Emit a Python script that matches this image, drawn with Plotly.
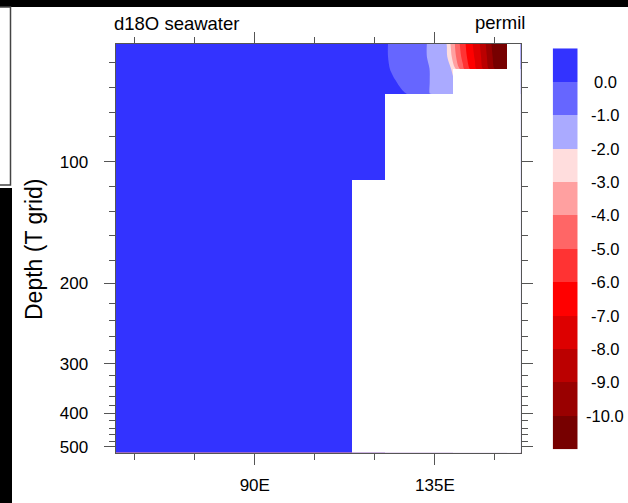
import numpy as np
import plotly.graph_objects as go

# ---------------------------------------------------------------- data
# depth (m) of each T-grid level; the vertical axis is the level index
level_depth = [5, 15, 25, 35, 45, 55, 65, 75, 85, 95, 105, 115, 125, 135, 145,
               155, 165, 175, 185, 196, 208, 221, 235, 250, 266, 284, 303, 324,
               348, 375, 405, 439, 477, 519]
lon = list(range(55, 158))                      # degrees E

# d18O of seawater (permil) over the open ocean west of the shelf
open_ocean_d18o = 0.4

# near-surface d18O (permil) east of 121E, levels 0..4
east_lon = list(range(121, 154))
east_k0 = [0.5, 0.3, 0.08, -0.2, -0.35, -0.45, -0.55, -0.65, -0.72, -0.8, -0.87,
           -0.93, -1.0, -1.15, -1.3, -1.5, -1.75, -2.02, -3.1, -4.0, -4.85, -5.55,
           -6.2, -6.75, -7.3, -7.85, -8.5, -9.2, -9.9, -10.6, -11.1, -11.5, -11.8]
east_k1 = [0.5, 0.3, 0.08, -0.2, -0.35, -0.45, -0.55, -0.65, -0.72, -0.8, -0.87,
           -0.93, -1.0, -1.12, -1.27, -1.45, -1.68, -1.92, -2.8, -3.75, -4.6, -5.3,
           -6.0, -6.55, -7.1, -7.65, -8.3, -9.0, -9.7, -10.4, -10.9, -11.3, -11.6]
east_k2 = [0.55, 0.35, 0.15, -0.05, -0.3, -0.42, -0.52, -0.62, -0.7, -0.78, -0.85,
           -0.9, -0.96, -1.02, -1.15, -1.3, -1.5, -1.75, -1.95, -2.9, -3.9, -4.8,
           -5.5, -6.2, -6.8, -7.4, -8.0, -8.7, -9.4, -10.1, -10.7, -11.2, -11.5]
east_k3 = [0.6, 0.45, 0.3, 0.18, 0.05, -0.1, -0.3, -0.45, -0.58, -0.7, -0.8,
           -0.88, -0.95, -1.02, -1.15, -1.3, -1.45, -1.6, -1.72, -1.85]
east_k4 = [0.65, 0.55, 0.45, 0.35, 0.27, 0.18, 0.09, -0.02, -0.2, -0.4, -0.6,
           -0.78, -0.92, -1.03, -1.15, -1.3, -1.45, -1.6, -1.7, -1.8]

# land mask: western edge of each step (deg E) and the level of the sea floor
land_west_edge = [114.2, 122.4, 139.4, 152.9]
floor_level = [11, 4, 2, 0]

# contour levels and fill colours (highest band first)
contour_levels = [0, -1, -2, -3, -4, -5, -6, -7, -8, -9, -10]
band_colors = ["#3333FF", "#6666FF", "#AAAAFF", "#FFDDDD", "#FFA0A0", "#FF6666",
               "#FF3333", "#FF0000", "#DD0000", "#BB0000", "#990000", "#770000"]

major_depth = [100, 200, 300, 400, 500]
minor_depth = [20, 40, 60, 80, 120, 140, 160, 180, 220, 240, 260, 280, 320, 340,
               360, 380, 420, 440, 460, 480]
lon_major = [90, 135]
lon_major_text = ["90E", "135E"]
lon_minor = [60, 75, 105, 120, 150]

# ---------------------------------------------------------------- grid
W, H = 628, 503
nlev = len(level_depth)
levels = np.arange(nlev)

z = np.full((nlev, len(lon)), open_ocean_d18o, dtype=float)
for k, row in enumerate([east_k0, east_k1, east_k2, east_k3, east_k4]):
    for lo, v in zip(east_lon, row):
        z[k, lon.index(lo)] = v

step = contour_levels[0] - contour_levels[1]
lo_lev, hi_lev = min(contour_levels), max(contour_levels)
asc_colors = band_colors[::-1]
nb = len(asc_colors)
colorscale = [[i / (nb - 1), c] for i, c in enumerate(asc_colors)]
band_mid = [lo_lev - step / 2 + i * step for i in range(nb)]

fig = go.Figure()

fig.add_trace(go.Contour(
    x=lon, y=levels, z=z,
    autocontour=False,
    contours=dict(start=lo_lev, end=hi_lev, size=step, coloring="fill",
                  showlines=False),
    line=dict(width=0),
    colorscale=colorscale, showscale=False, hoverinfo="skip",
))

# land below the sea floor (bars run past the plot edges and are clipped)
x_east = 160.0
bottom = nlev - 1
bar_end = bottom + 2
fig.add_trace(go.Bar(
    x=[(w + x_east) / 2 for w in land_west_edge],
    width=[x_east - w for w in land_west_edge],
    base=floor_level,
    y=[bar_end - f for f in floor_level],
    marker=dict(color="white", line=dict(width=0)),
    hoverinfo="skip", showlegend=False,
))

# label bar built as a one-column heatmap
fig.add_trace(go.Heatmap(
    x=[0], y=band_mid, z=[[m] for m in band_mid],
    zmin=band_mid[0], zmax=band_mid[-1], colorscale=colorscale,
    showscale=False, xaxis="x2", yaxis="y2", hoverinfo="skip",
))

# ---------------------------------------------------------------- layout
def px_x(p):
    return p / W


def px_y(p):
    return 1 - p / H


axis_col = "#555555"
font_fam = "Liberation Sans, Arial, Helvetica, sans-serif"
plot_l, plot_r, plot_t, plot_b = 115.5, 520.5, 44.0, 452.5

y_major = np.interp(major_depth, level_depth, levels)
y_minor = np.interp(minor_depth, level_depth, levels)

fig.update_layout(
    width=W, height=H,
    margin=dict(l=0, r=0, t=0, b=0, pad=0, autoexpand=False),
    paper_bgcolor="white", plot_bgcolor="white",
    showlegend=False, barmode="overlay", bargap=0,
    xaxis=dict(
        domain=[px_x(plot_l), px_x(plot_r)], range=[55.2, 156.4],
        tickmode="array", tickvals=lon_major, ticktext=lon_major_text,
        ticks="outside", ticklen=11, tickwidth=1, tickcolor=axis_col,
        minor=dict(tickmode="array", tickvals=lon_minor, ticks="outside",
                   ticklen=6, tickwidth=1, tickcolor=axis_col, showgrid=False),
        showline=True, linecolor=axis_col, linewidth=1, mirror="allticks",
        showgrid=False, zeroline=False, automargin=False,
        tickfont=dict(family=font_fam, size=17, color="black"),
        ticklabelstandoff=6,
    ),
    yaxis=dict(
        domain=[px_y(plot_b), px_y(plot_t)], range=[bottom, 0],
        tickmode="array", tickvals=list(y_major),
        ticktext=[str(d) for d in major_depth],
        ticks="outside", ticklen=11, tickwidth=1, tickcolor=axis_col,
        minor=dict(tickmode="array", tickvals=list(y_minor), ticks="outside",
                   ticklen=6, tickwidth=1, tickcolor=axis_col, showgrid=False),
        showline=True, linecolor=axis_col, linewidth=1, mirror="allticks",
        showgrid=False, zeroline=False, automargin=False,
        tickfont=dict(family=font_fam, size=17, color="black"),
        ticklabelstandoff=12,
    ),
    xaxis2=dict(domain=[px_x(552.7), px_x(577.7)], range=[-0.5, 0.5],
                visible=False, anchor="y2"),
    yaxis2=dict(domain=[px_y(449.3), px_y(48.3)],
                range=[lo_lev - step, hi_lev + step],
                visible=False, anchor="x2"),
)

ann = []
for v in contour_levels:
    ann.append(dict(text=f"{v:.1f}", x=px_x(605), xref="paper", xanchor="center",
                    y=v, yref="y2", yanchor="middle", showarrow=False,
                    font=dict(family=font_fam, size=16.5, color="black")))
ann.append(dict(text="d18O seawater", x=px_x(112), xref="paper", xanchor="left",
                y=px_y(24), yref="paper", yanchor="middle", showarrow=False,
                font=dict(family=font_fam, size=18.5, color="black")))
ann.append(dict(text="permil", x=px_x(527), xref="paper", xanchor="right",
                y=px_y(22), yref="paper", yanchor="middle", showarrow=False,
                font=dict(family=font_fam, size=18.5, color="black")))
ann.append(dict(text="Depth (T grid)", x=px_x(34), xref="paper", xanchor="center",
                y=px_y(250), yref="paper", yanchor="middle", textangle=-90,
                showarrow=False,
                font=dict(family=font_fam, size=23, color="black")))
fig.update_layout(annotations=ann)

# dark strips along the top and left edges, and the small framed panel
fig.update_layout(shapes=[
    dict(type="rect", xref="paper", yref="paper", x0=0, x1=1,
         y0=px_y(7), y1=1.0, fillcolor="black", line=dict(width=0)),
    dict(type="rect", xref="paper", yref="paper", x0=0, x1=px_x(12),
         y0=0, y1=px_y(188), fillcolor="black", line=dict(width=0)),
    dict(type="rect", xref="paper", yref="paper", x0=px_x(-3), x1=px_x(10.5),
         y0=px_y(185), y1=px_y(7), fillcolor="white",
         line=dict(color="#444444", width=1.5)),
])

fig.write_html("out.html")
